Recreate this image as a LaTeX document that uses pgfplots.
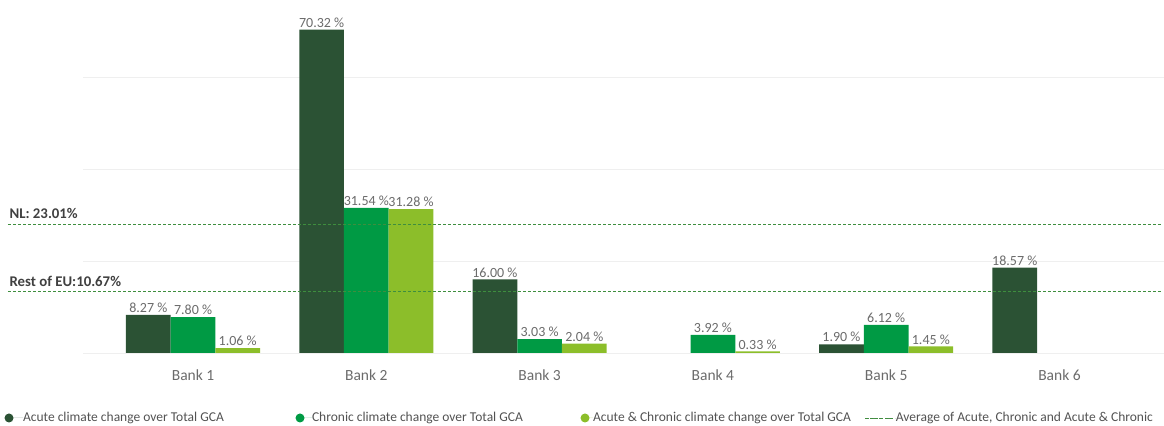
\documentclass[border=0pt]{standalone}
\usepackage{fontspec}
\setmainfont{Carlito}
\usepackage{pgfplots}
\pgfplotsset{compat=1.18}
\definecolor{acute}{HTML}{2B5234}
\definecolor{chronic}{HTML}{009A44}
\definecolor{both}{HTML}{8CBE2A}
\definecolor{avg}{HTML}{3E8E3E}
\definecolor{lbl}{HTML}{6B6B6B}
\definecolor{gridc}{HTML}{EFEFEF}
\pgfplotsset{
  barlbl/.style={
    nodes near coords={\pgfmathprintnumber[fixed,fixed zerofill,precision=2,assume math mode=true]{\pgfplotspointmeta}~\%},
    nodes near coords style={font=\fontsize{14bp}{16bp}\selectfont, text=lbl, inner sep=2bp, xshift=#1},
  },
}
\begin{document}
\begin{tikzpicture}
\useasboundingbox (0,0) rectangle (1164bp,426bp);
\begin{axis}[
  at={(83bp,73bp)}, anchor=south west,
  scale only axis, width=1081bp, height=349.6bp,
  xmin=-0.635, xmax=5.603, ymin=0, ymax=76,
  axis line style={draw=none},
  tick style={draw=none},
  ytick={0,20,40,60}, yticklabels={},
  ymajorgrids, grid style={color=gridc, line width=0.8bp},
  xtick={0,1,2,3,4,5},
  xticklabels={Bank 1,Bank 2,Bank 3,Bank 4,Bank 5,Bank 6},
  xticklabel style={font=\fontsize{15.5bp}{17bp}\selectfont, text=lbl, yshift=-13bp},
  clip=false,
  legend columns=4,
  legend cell align=left,
  legend style={at={(-0.0726,-0.1859)}, anchor=west, draw=none, fill=none,
    inner sep=0pt, outer sep=0pt, nodes={inner sep=0pt},
    column sep=0pt, text=black!68, font=\fontsize{13.5bp}{15bp}\selectfont},
]
\addplot[ybar, bar width=44.7bp, bar shift=-44.7bp, fill=acute, draw=none, barlbl=-44.7bp,
  legend image code/.code={\fill[acute] (4.5bp,0) circle (4.5bp); \path (0,0) -- (18.5bp,0);}]
  coordinates {(0,8.27) (1,70.32) (2,16.00) (4,1.90) (5,18.57)};
\addlegendentry{\makebox[272.5bp][l]{Acute climate change over Total GCA}}
\addplot[ybar, bar width=44.7bp, bar shift=0bp, fill=chronic, draw=none, barlbl=0bp,
  legend image code/.code={\fill[chronic] (4.5bp,0) circle (4.5bp); \path (0,0) -- (16.5bp,0);}]
  coordinates {(0,7.80) (1,31.54) (2,3.03) (3,3.92) (4,6.12)};
\addlegendentry{\makebox[268.5bp][l]{Chronic climate change over Total GCA}}
\addplot[ybar, bar width=44.7bp, bar shift=44.7bp, fill=both, draw=none, barlbl=44.7bp,
  legend image code/.code={\fill[both] (4.5bp,0) circle (4.5bp); \path (0,0) -- (12.5bp,0);}]
  coordinates {(0,1.06) (1,31.28) (2,2.04) (3,0.33) (4,1.45)};
\addlegendentry{\makebox[272bp][l]{Acute \& Chronic climate change over Total GCA}}
% average lines, drawn at the heights where the reference shows them
\addplot[sharp plot, no marks, color=avg, line width=0.9bp, dash pattern=on 3bp off 2bp,
  legend image code/.code={\draw[avg!80!gray, line width=0.9bp, dash pattern=on 4bp off 3bp] (0,0) -- (25bp,0); \path (0,0) -- (30bp,0);}]
  coordinates {(-1.068,28.0) (5.595,28.0)};
\addlegendentry{Average of Acute, Chronic and Acute \& Chronic}
\addplot[sharp plot, no marks, color=avg, line width=0.9bp, dash pattern=on 3bp off 2bp, forget plot]
  coordinates {(-1.068,13.3) (5.595,13.3)};
\node[anchor=base west, font=\bfseries\fontsize{14.8bp}{16bp}\selectfont, text=black!75, inner sep=0pt]
  at (axis cs:-1.06,28.0) [yshift=6bp] {NL: 23.01\%};
\node[anchor=base west, font=\bfseries\fontsize{14.8bp}{16bp}\selectfont, text=black!75, inner sep=0pt]
  at (axis cs:-1.06,13.3) [yshift=5bp] {Rest of EU:10.67\%};
\end{axis}
\end{tikzpicture}
\end{document}
